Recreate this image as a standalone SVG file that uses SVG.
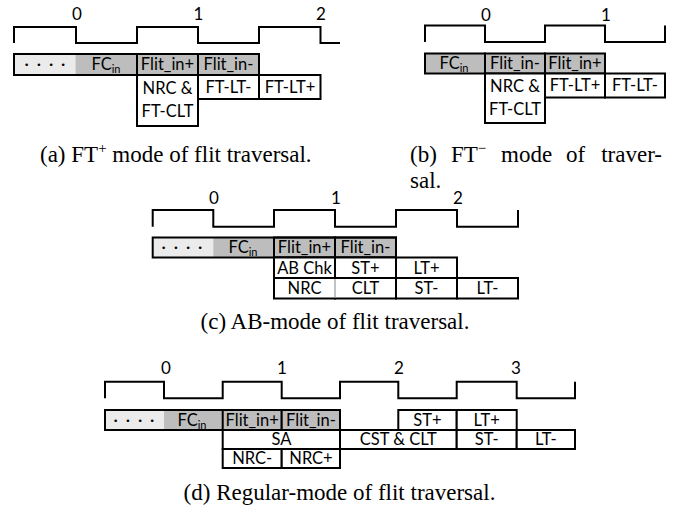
<svg xmlns="http://www.w3.org/2000/svg" width="678" height="510" viewBox="0 0 678 510">
<style>
.clk{fill:none;stroke:#000;stroke-width:2;stroke-linejoin:miter}
.c{stroke:#000;stroke-width:2}
.w{fill:#fff}
.g{fill:#bdbdbd}
.lg{fill:#ebebeb}
.o{fill:none;stroke:#000;stroke-width:2}
.t{font-family:Lato,"Open Sans",sans-serif;font-size:16.5px;fill:#000;text-anchor:middle}
.d{font-family:Lato,"Open Sans",sans-serif;font-size:17px;fill:#000;text-anchor:middle}
.dots{font-family:"DejaVu Sans",sans-serif;font-size:9px;fill:#000;text-anchor:middle;letter-spacing:2px}
.cap{font-family:"Liberation Serif","Times New Roman",serif;font-size:23px;fill:#000}
</style>

<!-- (a) -->
<g id="fig-a">
  <g id="a-clock">
    <path class="clk" d="M14,43 V27 H76 V43 H137 V27 H198 V43 H259 V27 H320.5 V43 H340"/>
    <text class="d" x="77" y="20">0</text>
    <text class="d" x="198.5" y="20">1</text>
    <text class="d" x="321" y="20">2</text>
  </g>
  <g id="a-dots"><rect class="lg" x="14" y="54" width="61.5" height="21"/><text class="dots" x="46" y="68">• • • •</text></g>
  <g id="a-fc"><rect class="g" x="75.5" y="54" width="61.5" height="21"/><text class="t" x="106" y="70">FC<tspan font-size="11" dy="3">in</tspan></text></g>
  <g id="a-flit1"><rect class="g c" x="137" y="54" width="61" height="21"/><text class="t" x="167.5" y="70">Flit_in+</text></g>
  <g id="a-flit2"><rect class="g c" x="198" y="54" width="61" height="21"/><text class="t" x="228.5" y="70">Flit_in-</text></g>
  <rect class="o" x="14" y="54" width="245" height="21"/>
  <g id="a-nrc"><rect class="w c" x="137" y="75" width="61" height="51"/><text class="t" x="167.5" y="93.5">NRC &amp;</text><text class="t" x="167.5" y="117">FT-CLT</text></g>
  <g id="a-ftltm"><rect class="w c" x="198" y="75" width="61" height="24"/><text class="t" x="228.5" y="93">FT-LT-</text></g>
  <g id="a-ftltp"><rect class="w c" x="259" y="75" width="61.5" height="24"/><text class="t" x="290" y="93">FT-LT+</text></g>
  <text class="cap" x="40" y="162">(a) FT<tspan font-size="15" dy="-9">+</tspan><tspan dy="9"> mode of flit traversal.</tspan></text>
</g>

<!-- (b) -->
<g id="fig-b">
  <g id="b-clock">
    <path class="clk" d="M425,42 V25.5 H485 V42 H545 V25.5 H605 V42 H665 V25.5"/>
    <text class="d" x="486" y="20.5">0</text>
    <text class="d" x="606" y="20.5">1</text>
  </g>
  <g id="b-fc"><rect class="g c" x="425" y="53.5" width="60" height="20"/><text class="t" x="454" y="69">FC<tspan font-size="11" dy="3">in</tspan></text></g>
  <g id="b-flit1"><rect class="g c" x="485" y="53.5" width="60" height="20"/><text class="t" x="515" y="69">Flit_in-</text></g>
  <g id="b-flit2"><rect class="g c" x="545" y="53.5" width="60" height="20"/><text class="t" x="575" y="69">Flit_in+</text></g>
  <g id="b-nrc"><rect class="w c" x="485" y="73.5" width="60" height="49.5"/><text class="t" x="515" y="91.5">NRC &amp;</text><text class="t" x="515" y="115">FT-CLT</text></g>
  <g id="b-ftltp"><rect class="w c" x="545" y="73.5" width="60" height="24"/><text class="t" x="575" y="91">FT-LT+</text></g>
  <g id="b-ftltm"><rect class="w c" x="605" y="73.5" width="60" height="24"/><text class="t" x="635" y="91">FT-LT-</text></g>
  <text class="cap" x="410" y="162">(b)</text>
  <text class="cap" x="451" y="162">FT<tspan font-size="15" dy="-9">−</tspan></text>
  <text class="cap" x="501" y="162">mode</text>
  <text class="cap" x="566" y="162">of</text>
  <text class="cap" x="662" y="162" text-anchor="end">traver-</text>
  <text class="cap" x="410" y="188">sal.</text>
</g>

<!-- (c) -->
<g id="fig-c">
  <g id="c-clock">
    <path class="clk" d="M152.7,226.7 V210 H213.3 V226.7 H274 V210 H335 V226.7 H396 V210 H457 V226.7 H518 V210"/>
    <text class="d" x="214" y="204">0</text>
    <text class="d" x="336" y="204">1</text>
    <text class="d" x="458" y="204">2</text>
  </g>
  <g id="c-dots"><rect class="lg" x="152.7" y="237.5" width="60.6" height="20"/><text class="dots" x="183" y="251">• • • •</text></g>
  <g id="c-fc"><rect class="g" x="213.3" y="237.5" width="60.7" height="20"/><text class="t" x="243" y="253">FC<tspan font-size="11" dy="3">in</tspan></text></g>
  <g id="c-flit1"><rect class="g c" x="274" y="237.5" width="61" height="20"/><text class="t" x="304.5" y="253">Flit_in+</text></g>
  <g id="c-flit2"><rect class="g c" x="335" y="237.5" width="61" height="20"/><text class="t" x="365.5" y="253">Flit_in-</text></g>
  <rect class="o" x="152.7" y="237.5" width="243.3" height="20"/>
  <g id="c-abchk"><rect class="w c" x="274" y="257.5" width="61" height="20.5"/><text class="t" x="304.5" y="273.5">AB Chk</text></g>
  <g id="c-stp"><rect class="w c" x="335" y="257.5" width="61" height="20.5"/><text class="t" x="365.5" y="273.5">ST+</text></g>
  <g id="c-ltp"><rect class="w c" x="396" y="257.5" width="61" height="20.5"/><text class="t" x="426.5" y="273.5">LT+</text></g>
  <g id="c-nrc"><rect class="w c" x="274" y="278" width="61" height="20.5"/><text class="t" x="304.5" y="294">NRC</text></g>
  <g id="c-clt"><rect class="w c" x="335" y="278" width="61" height="20.5"/><text class="t" x="365.5" y="294">CLT</text></g>
  <line x1="335" y1="279" x2="335" y2="297.5" stroke="#fff" stroke-width="2"/>
  <line x1="335" y1="279" x2="335" y2="297.5" stroke="#9a9a9a" stroke-width="1.2"/>
  <g id="c-stm"><rect class="w c" x="396" y="278" width="61" height="20.5"/><text class="t" x="426.5" y="294">ST-</text></g>
  <g id="c-ltm"><rect class="w c" x="457" y="278" width="61" height="20.5"/><text class="t" x="487.5" y="294">LT-</text></g>
  <text class="cap" x="335" y="329" text-anchor="middle">(c) AB-mode of flit traversal.</text>
</g>

<!-- (d) -->
<g id="fig-d">
  <g id="d-clock">
    <path class="clk" d="M105,398.3 V381.7 H164 V398.3 H222.7 V381.7 H281.7 V398.3 H340 V381.7 H398.3 V398.3 H456.7 V381.7 H516.7 V398.3 H575 V381.7"/>
    <text class="d" x="166" y="374">0</text>
    <text class="d" x="282" y="374">1</text>
    <text class="d" x="399" y="374">2</text>
    <text class="d" x="516" y="374">3</text>
  </g>
  <g id="d-dots"><rect class="lg" x="105" y="410" width="59" height="20"/><text class="dots" x="135" y="423.5">• • • •</text></g>
  <g id="d-fc"><rect class="g" x="164" y="410" width="58.7" height="20"/><text class="t" x="192" y="425.5">FC<tspan font-size="11" dy="3">in</tspan></text></g>
  <g id="d-flit1"><rect class="g c" x="222.7" y="410" width="59" height="20"/><text class="t" x="252.2" y="425.5">Flit_in+</text></g>
  <g id="d-flit2"><rect class="g c" x="281.7" y="410" width="58.3" height="20"/><text class="t" x="311" y="425.5">Flit_in-</text></g>
  <rect class="o" x="105" y="410" width="235" height="20"/>
  <g id="d-stp"><rect class="w c" x="398.3" y="410" width="58.4" height="20"/><text class="t" x="427.5" y="425.5">ST+</text></g>
  <g id="d-ltp"><rect class="w c" x="456.7" y="410" width="60" height="20"/><text class="t" x="486.7" y="425.5">LT+</text></g>
  <g id="d-sa"><rect class="w c" x="222.7" y="430" width="117.3" height="19"/><text class="t" x="281.4" y="445">SA</text></g>
  <g id="d-cst"><rect class="w c" x="340" y="430" width="116.7" height="19"/><text class="t" x="398.3" y="445">CST &amp; CLT</text></g>
  <g id="d-stm"><rect class="w c" x="456.7" y="430" width="60" height="19"/><text class="t" x="486.7" y="445">ST-</text></g>
  <g id="d-ltm"><rect class="w c" x="516.7" y="430" width="58.3" height="19"/><text class="t" x="545.8" y="445">LT-</text></g>
  <g id="d-nrcm"><rect class="w c" x="222.7" y="449" width="59" height="19"/><text class="t" x="252.2" y="464">NRC-</text></g>
  <g id="d-nrcp"><rect class="w c" x="281.7" y="449" width="58.3" height="19"/><text class="t" x="311" y="464">NRC+</text></g>
  <text class="cap" x="339.5" y="500" text-anchor="middle">(d) Regular-mode of flit traversal.</text>
</g>
</svg>
